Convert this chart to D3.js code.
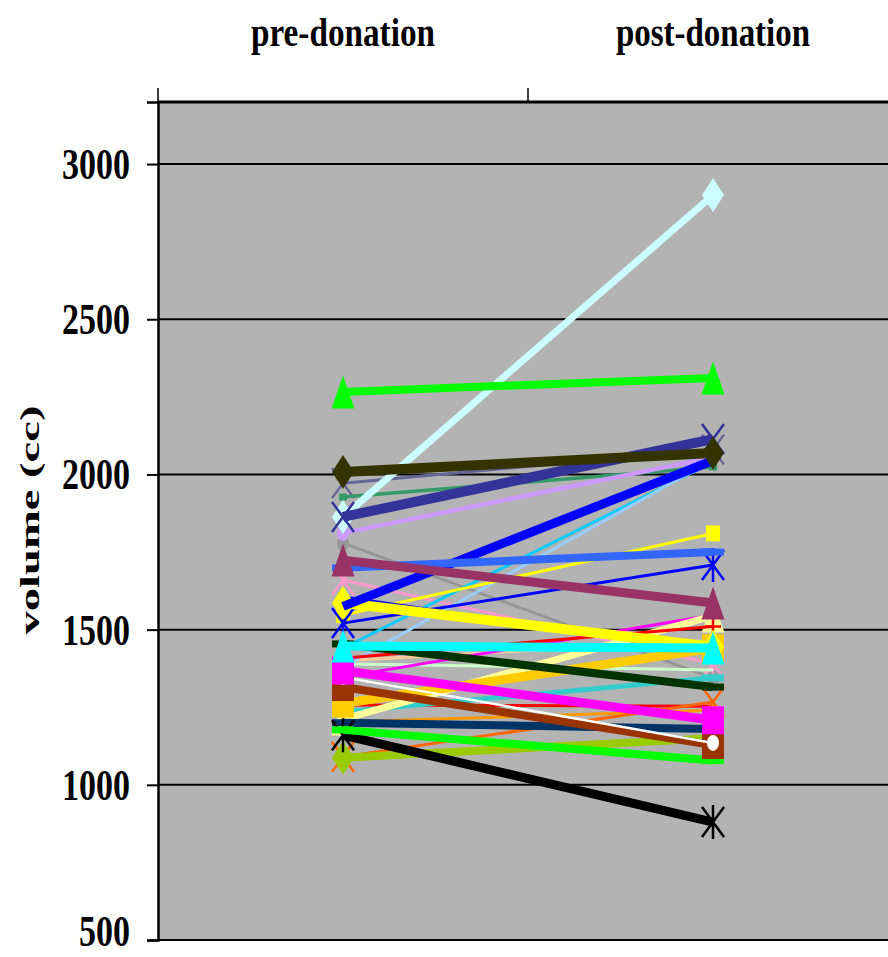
<!DOCTYPE html>
<html>
<head>
<meta charset="utf-8">
<script src="https://cdn.jsdelivr.net/npm/d3@7"></script>
<style>
  body { margin: 0; background: #fff; }
  text { font-family: "Liberation Serif", "Times New Roman", serif; font-weight: bold; }
</style>
</head>
<body>
<div id="chart"></div>
<script>
// data
const categories = ["pre-donation", "post-donation"];
const yTicks = [500, 1000, 1500, 2000, 2500, 3000];

// one entry per donor, in drawing order (bottom to top)
const preValues  = [1972, 1927, 1779, 1660, 1390, 1400, 1257, 1202, 1440, 1380, 1547, 1605, 1521, 1811, 1235,
                    1347, 1090, 1212, 1408, 1262, 1087, 1200, 1160, 1177, 1315, 1347, 1368, 1454, 1586, 1447,
                    1575, 1699, 1724, 1863, 1863, 2008, 2266];
const postValues = [2080, 2024, 1344, 1390, 1370, 1465, 1253, 1240, 2040, 2047, 1810, 1433, 1708, 2055, 1345,
                    1547, 1267, 1544, 1510, 1440, 1150, 1180,  880, 1078, 1128, 1135, 1208, 1315, 1445, 1441,
                    2045, 1750, 1586, 2900, 2114, 2069, 2311];

// line styles, same order as the values
const lineColors = ["#666699", "#339966", "#969696", "#ff99cc", "#ccffcc", "#ffcc99", "#ff0000", "#ff9900", "#00ccff", "#99ccff",
                    "#ffff00", "#0000ff", "#0000ff", "#cc99ff", "#33cccc", "#ff00ff", "#ff6600", "#ffff99", "#ff0000", "#ffcc00",
                    "#99cc00", "#003366", "#000000", "#00ff00", "#993300", "#ffffff", "#ff00ff", "#003300", "#ffff00", "#00ffff",
                    "#0000ff", "#3366ff", "#993366", "#ccffff", "#333399", "#333300", "#00ff00"];
const lineWidths = [3, 3.5, 3, 3, 3, 3, 3, 3, 3, 3,
                    3, 3, 3, 4.5, 5, 3, 3, 7, 3, 9,
                    8, 8, 9, 8, 8, 2.5, 9, 8, 10, 9,
                    9, 8, 9, 7, 10, 10, 8];
const markers = ["x", "smallsquare", "circle", "asterisk", null, null, null, "smalltriangle", null, null,
                 "smallsquare2", null, "asterisk", "circle", "dash", null, "x", "triangle", "plus", "square",
                 "diamond", "dash", "asterisk", "dash", "square", "circle", "square", "dash", "diamond", "triangle",
                 null, "dash", "triangle", "diamond", "x", "diamond", "triangle"];

const W = 888, H = 957;
const svg = d3.select("#chart").append("svg").attr("width", W).attr("height", H);

const x = d3.scaleBand().domain(categories).range([158, 898]);
const cx = c => x(c) + x.bandwidth() / 2;
const y = d3.scaleLinear().domain([500, 3200]).range([940, 102]);

// plot area
svg.append("rect")
  .attr("x", 158).attr("y", y(3200))
  .attr("width", 740).attr("height", y(500) - y(3200))
  .attr("fill", "#b3b3b3");

// gridlines
svg.append("g")
  .selectAll("line").data(yTicks).join("line")
  .attr("x1", 158).attr("x2", 898)
  .attr("y1", d => y(d)).attr("y2", d => y(d))
  .attr("stroke", "#000").attr("stroke-width", 2);

// left axis
const yAxis = svg.append("g")
  .attr("transform", "translate(158,0)")
  .call(d3.axisLeft(y).tickValues(yTicks).tickFormat(d3.format("d")).tickSize(11).tickPadding(17));
yAxis.select(".domain").attr("stroke", "#000").attr("stroke-width", 2.5);
yAxis.selectAll(".tick line").attr("stroke", "#000").attr("stroke-width", 2);
yAxis.selectAll(".tick text")
  .attr("font-size", 44).attr("fill", "#000")
  .attr("dy", d => d === 500 ? "0.13em" : "0.33em")
  .attr("textLength", d => String(d).length * 17)
  .attr("lengthAdjust", "spacingAndGlyphs");

// top axis
svg.append("line")
  .attr("x1", 158).attr("x2", 898).attr("y1", 102).attr("y2", 102)
  .attr("stroke", "#000").attr("stroke-width", 3);
svg.append("g")
  .selectAll("line").data(categories.concat(["end"])).join("line")
  .attr("x1", d => d === "end" ? 898 : x(d)).attr("x2", d => d === "end" ? 898 : x(d))
  .attr("y1", 88).attr("y2", 102)
  .attr("stroke", "#000").attr("stroke-width", 1.5);
svg.append("g")
  .selectAll("text").data(categories).join("text")
  .attr("x", d => cx(d)).attr("y", 46)
  .attr("text-anchor", "middle")
  .attr("font-size", 39)
  .attr("textLength", (d, i) => i === 0 ? 184 : 194)
  .attr("lengthAdjust", "spacingAndGlyphs")
  .text(d => d);

// y title
svg.append("text")
  .attr("transform", "translate(39,520) rotate(-90)")
  .attr("text-anchor", "middle")
  .attr("font-size", 28)
  .attr("textLength", 229)
  .attr("lengthAdjust", "spacingAndGlyphs")
  .text("volume (cc)");

// marker shapes (width x height, taller than wide like the original)
function markerPath(type) {
  switch (type) {
    case "triangle": return "M0,-16.5L11.5,16.5L-11.5,16.5Z";
    case "smalltriangle": return "M0,-8L6,8L-6,8Z";
    case "diamond": return "M0,-17L11,0L0,17L-11,0Z";
    case "square": return "M-11,-14H11V14H-11Z";
    case "smallsquare": return "M-4,-3.5H4V3.5H-4Z";
    case "smallsquare2": return "M-7,-8H7V8H-7Z";
    case "dash": return "M-11,-3.5H11V3.5H-11Z";
    case "circle": return "M-6,0A6,8 0 1,0 6,0A6,8 0 1,0 -6,0Z";
    case "x": return "M-11,-15L11,15M11,-15L-11,15";
    case "asterisk": return "M-11,-15L11,15M11,-15L-11,15M0,-17V17";
    case "plus": return "M-8,0H8M0,-10V10";
  }
  return null;
}
const stroked = t => t === "x" || t === "asterisk" || t === "plus";

const series = preValues.map((v, i) => ({
  values: [preValues[i], postValues[i]],
  color: lineColors[i], width: lineWidths[i], marker: markers[i]
}));

const line = d3.line()
  .x((d, i) => cx(categories[i]))
  .y(d => y(d));

const g = svg.append("g");
series.forEach(s => {
  g.append("path")
    .attr("d", line(s.values))
    .attr("fill", "none")
    .attr("stroke", s.color)
    .attr("stroke-width", s.width);
  if (s.marker) {
    s.values.forEach((v, i) => {
      g.append("path")
        .attr("transform", `translate(${cx(categories[i])},${y(v)})`)
        .attr("d", markerPath(s.marker))
        .attr("fill", stroked(s.marker) ? "none" : s.color)
        .attr("stroke", stroked(s.marker) ? s.color : "none")
        .attr("stroke-width", 2.5);
    });
  }
});
</script>
</body>
</html>
